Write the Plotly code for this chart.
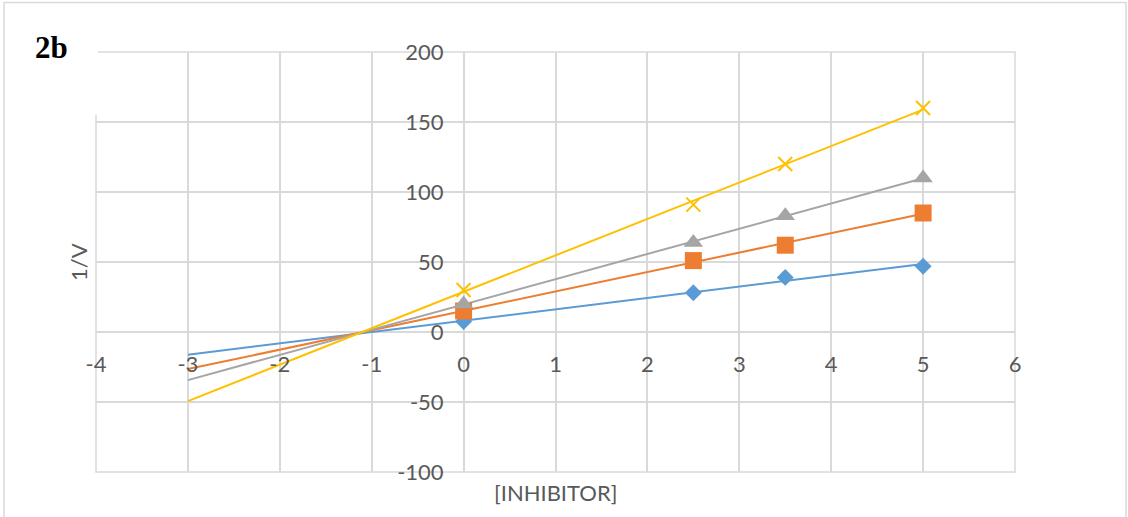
import numpy as np
import plotly.graph_objects as go

# Lineweaver-Burk style data: 1/V against inhibitor concentration
inhibitor = [0, 2.5, 3.5, 5]
series_a = [7.5, 28, 39, 47]
series_b = [15, 51, 62, 85]
series_c = [20, 64, 83, 110]
series_d = [30, 91, 120, 160]
trend_range = [-3, 5]

x_ticks = [-4, -3, -2, -1, 0, 1, 2, 3, 4, 5, 6]
x_tick_labels = ["-4", "-3", "-2", "-1", "0", "1", "2", "3", "4", "5", "6"]
y_ticks = [-100, -50, 0, 50, 100, 150, 200]
y_tick_labels = ["-100", "-50", "0", "50", "100", "150", "200"]

W, H = 1128, 517
L, R, T, B = 96, 113, 52, 45
PW, PH = W - L - R, H - T - B


def px_x(p):
    return (p - L) / PW


def px_y(p):
    return (H - B - p) / PH


styles = [
    (series_a, "#5B9BD5", dict(symbol="diamond", size=13)),
    (series_b, "#ED7D31", dict(symbol="square", size=17)),
    (series_c, "#A5A5A5", dict(symbol="triangle-up", size=17)),
    (series_d, "#FFC000", dict(symbol="x-thin-open", size=14, line=dict(width=2))),
]

fig = go.Figure()

# linear trendlines, extended back to x = -3
for vals, color, _ in styles:
    slope, icpt = np.polyfit(inhibitor, vals, 1)
    tx = np.array(trend_range, dtype=float)
    fig.add_trace(go.Scatter(x=tx, y=slope * tx + icpt, mode="lines",
                             line=dict(color=color, width=2),
                             hoverinfo="skip", showlegend=False))

for vals, color, mk in styles:
    m = dict(mk)
    m["color"] = color
    if "line" in m:
        m["line"] = dict(m["line"], color=color)
    fig.add_trace(go.Scatter(x=inhibitor, y=vals, mode="markers",
                             marker=m, showlegend=False))

font_main = "Lato, 'Open Sans', sans-serif"
grid = "#D9D9D9"
txt = "#595959"
fs = 22

fig.update_layout(
    width=W, height=H,
    margin=dict(l=L, r=R, t=T, b=B),
    paper_bgcolor="white", plot_bgcolor="white",
    font=dict(family=font_main, size=fs, color=txt),
    xaxis=dict(range=[-4, 6], tickvals=x_ticks, ticktext=x_tick_labels,
               showgrid=True, gridcolor=grid, gridwidth=1.5, zeroline=False,
               showline=False, ticks="", anchor="free", position=1 / 3,
               ticklabelstandoff=17, tickfont=dict(size=fs, color=txt)),
    yaxis=dict(range=[-100, 200], tickvals=y_ticks, ticktext=y_tick_labels,
               showgrid=True, gridcolor=grid, gridwidth=1.5, zeroline=False,
               showline=False, ticks="", anchor="free", position=0.4,
               ticklabelstandoff=20, tickfont=dict(size=fs, color=txt)),
    shapes=[
        # edge gridlines around the plot area
        dict(type="rect", xref="paper", yref="paper", x0=0, x1=1, y0=0, y1=1,
             line=dict(color=grid, width=1.5), fillcolor="rgba(0,0,0,0)",
             layer="below"),
        # outer chart border
        dict(type="rect", xref="paper", yref="paper",
             x0=px_x(4), x1=px_x(1126), y0=px_y(540), y1=px_y(2.5),
             line=dict(color=grid, width=1.5), fillcolor="rgba(0,0,0,0)",
             layer="above"),
        # white label box in the top-left corner
        dict(type="rect", xref="paper", yref="paper",
             x0=px_x(5.5), x1=px_x(98), y0=px_y(115), y1=px_y(4),
             line=dict(width=0), fillcolor="white", layer="above"),
    ],
    annotations=[
        dict(text="<b>2b</b>", xref="paper", yref="paper",
             x=px_x(51), y=px_y(47), xanchor="center", yanchor="middle",
             showarrow=False,
             font=dict(family="'Liberation Serif', 'Times New Roman', serif",
                       size=31, color="black")),
        dict(text="1/V", xref="paper", yref="paper", x=px_x(78), y=0.5,
             xanchor="center", yanchor="middle",
             textangle=-90, showarrow=False,
             font=dict(family=font_main, size=fs, color=txt)),
        dict(text="[INHIBITOR]", xref="paper", yref="paper", x=0.5,
             y=px_y(492), xanchor="center", yanchor="middle",
             showarrow=False,
             font=dict(family=font_main, size=fs, color=txt)),
    ],
)

fig.write_html("out.html")
